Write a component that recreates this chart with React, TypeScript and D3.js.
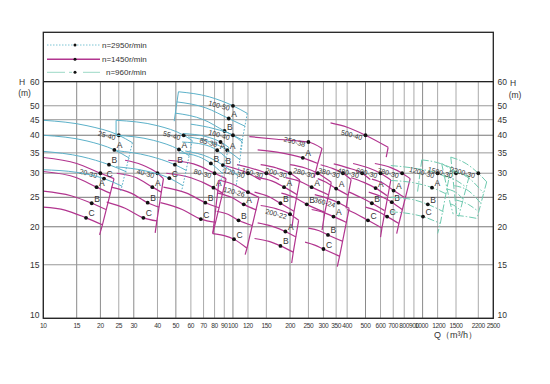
import React from 'react';
import * as d3 from 'd3';

type Pt = [number, number];
interface Fam { name: string; at: Pt; marks: [string, number, number][]; curves: Pt[][]; right?: Pt[]; left?: Pt[]; }

const xTickValues = [10, 15, 20, 25, 30, 40, 50, 60, 70, 80, 90, 100, 120, 150, 200, 250, 300, 350, 400, 500, 600, 700, 800, 900, 1000, 1200, 1500, 2200, 2500];
const xTickLabels = xTickValues.map(String);
const yTickValues = [10, 15, 20, 25, 30, 35, 40, 45, 50, 60];
const legendLabels = ['n=2950r/min', 'n=1450r/min', 'n=960r/min'];

const pumps2950: Fam[] = [
  { name: '25-40', at: [25, 40], marks: [['A', 23.7, 35.8], ['B', 22.2, 32], ['C', 20.9, 28.8]],
    curves: [[[10, 44.8], [17, 43], [25, 40], [29.5, 37.8]], [[10, 40], [17, 38.3], [23.7, 35.8], [28.5, 33.6]], [[10, 35.4], [16, 34], [22.2, 32], [27.5, 30.3]], [[10, 30.8], [15, 30.2], [20.9, 28.8], [26, 27.2]]],
    right: [[29.5, 37.8], [26, 27.2], [25.5, 26]] },
  { name: '55-40', at: [55, 40], marks: [['A', 51.9, 35.9], ['B', 49.4, 32], ['C', 46.2, 28.9]],
    curves: [[[24.2, 44.8], [40, 43], [55, 40], [61, 38.4]], [[24.2, 40], [38, 38.5], [51.9, 35.9], [59, 34.2]], [[24.2, 35.6], [36, 34.2], [49.4, 32], [57, 30.6]], [[24.2, 31.5], [34, 30.6], [46.2, 28.9], [54.5, 27.3]]],
    left: [[24.2, 44.8], [24.2, 40]], right: [[61, 38.4], [54.5, 27.3], [53.5, 26.2]] },
  { name: '100-50', at: [100, 50], marks: [['A', 95, 45.4], ['B', 90.3, 41.3]],
    curves: [[[51.6, 55.6], [75, 53.5], [100, 50], [119, 47.2]], [[50.5, 51.5], [72, 49.2], [95, 45.4], [116, 42.8]], [[49.5, 47.3], [70, 45], [90.3, 41.3], [113, 38.5]]],
    left: [[51.6, 55.6], [49, 44.5]], right: [[119, 47.2], [109, 35.3]] },
  { name: '100-40', at: [100, 40], marks: [['A', 93.3, 35.7], ['B', 88.5, 31.9]],
    curves: [[[60, 43.5], [80, 42], [100, 40], [112, 38]], [[58, 39.5], [78, 37.8], [93.3, 35.7], [109, 33.2]], [[56, 35.5], [75, 33.8], [88.5, 31.9], [106, 29.5]]],
    right: [[112, 38], [106, 29.5], [104, 27.3]] },
  { name: '85-38', at: [86, 38], marks: [['A', 82.6, 35.7], ['B', 76.5, 32.3]],
    curves: [[[55, 40.5], [72, 39.6], [86, 38], [95, 36.5]], [[54, 38], [70, 37.3], [82.6, 35.7], [92, 33.8]], [[52, 35], [66, 34], [76.5, 32.3], [88, 30]]],
    right: [[95, 36.5], [88, 30], [85, 27]] },
];

const pumps1450: Fam[] = [
  { name: '20-30', at: [20, 30], marks: [['A', 19.1, 27], ['B', 18, 23.9], ['C', 16.8, 21.4]],
    curves: [[[10, 33.8], [15, 32.3], [20, 30], [23.6, 28.8]], [[10, 30.4], [15, 29], [19.1, 27], [22.5, 25.8]], [[10, 26.2], [14, 25.3], [18, 23.9], [21.4, 22.8]], [[10, 23.2], [13, 22.7], [16.8, 21.4], [20.5, 20.3]]],
    right: [[23.6, 28.8], [20.5, 20.3], [19.8, 18.8]] },
  { name: '40-30', at: [40, 30], marks: [['A', 37.6, 27], ['B', 35.5, 24], ['C', 33.7, 21.4]],
    curves: [[[27, 33.1], [33, 32], [40, 30], [43, 28.8]], [[24.4, 30], [31, 29], [37.6, 27], [41.9, 26]], [[22.8, 27], [29, 25.8], [35.5, 24], [40.8, 23.2]], [[21.6, 24.1], [27, 23], [33.7, 21.4], [39.7, 20.9]]],
    right: [[43, 28.8], [39.7, 20.9], [38.9, 19.1]] },
  { name: '80-30', at: [80, 30], marks: [['A', 78.9, 26.9], ['B', 71.5, 24], ['C', 67.7, 21.2]],
    curves: [[[45.6, 33.1], [62, 32.2], [80, 30], [92, 28.8]], [[44.5, 30], [60, 29], [78.9, 26.9], [88, 25.8]], [[43, 27], [57, 25.8], [71.5, 24], [84.4, 23.1]], [[41.5, 24], [54, 22.8], [67.7, 21.2], [81, 20.7]]],
    right: [[92, 28.8], [81, 20.7], [78.2, 19]] },
  { name: '120-26', at: [120, 26], marks: [['A', 114, 23.7], ['B', 107, 21], ['C', 101.3, 18.2]],
    curves: [[[84.5, 28.5], [100, 27.6], [120, 26], [137, 25]], [[83.5, 25.8], [98, 25], [114, 23.7], [133, 22.7]], [[82, 22.5], [94, 22], [107, 21], [126, 20.2]], [[78.3, 19], [90, 18.7], [101.3, 18.2], [118.5, 17]]],
    left: [[84.5, 28.5], [78.3, 19]], right: [[137, 25], [118.5, 17], [116, 16.2]] },
  { name: '120-30', at: [120, 30], marks: [], curves: [[[90, 31.8], [120, 30], [140, 28.5]]] },
  { name: '150-30', at: [150, 30], marks: [], curves: [[[105, 32], [150, 30], [175, 28.6]]] },
  { name: '200-30', at: [200, 30], marks: [['A', 186, 27], ['B', 178, 23.9]],
    curves: [[[140, 32], [170, 31.2], [200, 30], [225, 28.5]], [[135, 29], [160, 28.3], [186, 27], [218, 25.5]], [[130, 26], [155, 25.1], [178, 23.9], [210, 22.5]]],
    right: [[225, 28.5], [210, 22.5], [205, 20]] },
  { name: '200-22', at: [200, 22], marks: [['A', 189, 19.3], ['B', 178, 17.3]],
    curves: [[[140, 23.5], [170, 22.9], [200, 22], [222, 21]], [[135, 20.6], [160, 20.1], [189, 19.3], [215, 18.5]], [[130, 18.3], [155, 17.9], [178, 17.3], [208, 16.5]]],
    right: [[222, 21], [208, 16.5], [204, 15.2]] },
  { name: '250-38', at: [250, 38], marks: [['A', 233.5, 33.7]],
    curves: [[[122, 39.6], [170, 38.8], [250, 38], [295, 36.2]], [[135, 35.8], [180, 35], [233.5, 33.7], [280, 32.3]]],
    right: [[295, 36.2], [280, 32.3], [268, 29]] },
  { name: '280-30', at: [280, 30], marks: [['A', 260, 27], ['B', 245, 23.7]],
    curves: [[[200, 32], [240, 31.2], [280, 30], [330, 28]], [[190, 29], [225, 28.2], [260, 27], [318, 25.5]], [[180, 25.8], [210, 25], [245, 23.7], [305, 22.3]]],
    right: [[330, 28], [305, 22.3], [295, 19.5]] },
  { name: '380-30', at: [380, 30], marks: [['A', 350, 26.7]],
    curves: [[[290, 32], [330, 31.2], [380, 30], [420, 28.6]], [[280, 28.8], [310, 28], [350, 26.7], [405, 25.4]]],
    right: [[420, 28.6], [405, 25.4], [395, 23]] },
  { name: '360-24', at: [360, 24], marks: [['A', 339, 21.6], ['B', 317, 18.8], ['C', 300, 16.9]],
    curves: [[[270, 25.5], [310, 24.9], [360, 24], [410, 23]], [[260, 22.8], [300, 22.3], [339, 21.6], [395, 20.7]], [[250, 19.8], [285, 19.4], [317, 18.8], [380, 17.9]], [[240, 17.8], [270, 17.4], [300, 16.9], [365, 16]]],
    right: [[410, 23], [365, 16], [355, 14.8]] },
  { name: '480-30', at: [480, 30], marks: [], curves: [[[340, 32.2], [400, 31.3], [480, 30], [530, 28.6]]] },
  { name: '600-30', at: [600, 30], marks: [['A', 565, 26.8], ['B', 540, 23.9], ['C', 515, 21]],
    curves: [[[430, 32.3], [520, 31.2], [600, 30], [680, 28.5]], [[420, 29], [490, 28], [565, 26.8], [650, 25.3]], [[410, 26], [470, 25], [540, 23.9], [630, 22.6]], [[400, 22.8], [450, 22], [515, 21], [610, 19.8]]],
    right: [[680, 28.5], [610, 19.8], [600, 18.5]] },
  { name: '780-30', at: [780, 30], marks: [['A', 703, 26.3], ['B', 688, 24.1], ['C', 650, 21.6]],
    curves: [[[560, 32.3], [680, 31.3], [780, 30], [860, 28.8]], [[540, 28.7], [620, 27.8], [703, 26.3], [800, 25]], [[520, 26], [600, 25.2], [688, 24.1], [780, 22.8]], [[500, 23.2], [570, 22.6], [650, 21.6], [750, 20.5]]],
    right: [[860, 28.8], [750, 20.5], [730, 19]] },
  { name: '500-40', at: [500, 40], marks: [], curves: [[[327, 43.9], [400, 42.5], [500, 40], [658, 36.5]]], right: [[658, 36.5], [643, 33.9]] },
];

const pumps960: Fam[] = [
  { name: '1200-30', at: [1200, 30], marks: [['A', 1121, 26.9], ['B', 1065, 23.7], ['C', 1005, 21.6]],
    curves: [[[990, 33.2], [1200, 32.5], [1410, 31.3]], [[680, 31.8], [950, 31], [1200, 30], [1380, 28.8]], [[680, 28.4], [900, 27.9], [1121, 26.9], [1340, 25.6]], [[680, 25], [880, 24.6], [1065, 23.7], [1290, 22.4]], [[680, 22.4], [850, 22.1], [1005, 21.6], [1240, 20.5]]],
    left: [[990, 33.2], [940, 26]], right: [[1410, 31.3], [1240, 20.5], [1200, 19]] },
  { name: '1500-30', at: [1500, 30], marks: [],
    curves: [[[1260, 32.3], [1500, 30.4], [1880, 29.3]], [[1300, 29.5], [1550, 28.2], [1800, 26.9]], [[1350, 26.6], [1560, 25.6], [1720, 24.4]], [[1400, 23.8], [1560, 23], [1620, 22.6]]],
    left: [[1260, 32.3], [1400, 23.8], [1450, 22]], right: [[1880, 29.3], [1570, 21.6]] },
  { name: '2200-30', at: [2200, 30], marks: [],
    curves: [[[1408, 33.9], [1800, 32.2], [2200, 30], [2363, 28.1]], [[1440, 30.4], [1850, 29], [2300, 25.8]], [[1470, 27.3], [1850, 26.3], [2240, 24]], [[1500, 24.5], [1850, 23.7], [2190, 22.5]], [[1520, 21.8], [1800, 21.6], [2150, 21.3]]],
    left: [[1408, 33.9], [1520, 21.8]], right: [[2363, 28.1], [2150, 21.3]] },
];

const styles = {
  s2950: { stroke: '#5cb1c9', dash: undefined as string | undefined, bdash: '1.6,1.6', width: 1 },
  s1450: { stroke: '#b2358f', dash: undefined as string | undefined, bdash: undefined as string | undefined, width: 1.2 },
  s960: { stroke: '#6fcab0', dash: '7,2,1.5,2', bdash: '7,2,1.5,2', width: 1 },
};

const FONT = 'Liberation Sans, Arial, sans-serif';

export default function App() {
  const x = d3.scaleLog().domain([10, 1500, 2200, 2500]).range([43.3, 456, 478.3, 493.3]);
  const y = d3.scaleLog().domain([10, 60]).range([318.3, 81.7]);
  const left = 43.3, right = 493.3, top = 81.7, bottom = 318.3;
  const line = d3.line<Pt>().x(d => x(d[0])).y(d => y(d[1])).curve(d3.curveMonotoneX);
  const poly = d3.line<Pt>().x(d => x(d[0])).y(d => y(d[1]));

  const renderFam = (f: Fam, st: { stroke: string; dash?: string; bdash?: string; width: number }, key: string) => {
    const dx = x(f.at[0]), dy = y(f.at[1]);
    return (
      <g key={key}>
        {f.curves.map((c, i) => (
          <path key={i} d={line(c) || ''} fill="none" stroke={st.stroke} strokeWidth={st.width} strokeDasharray={st.dash} />
        ))}
        {f.left && <path d={poly(f.left) || ''} fill="none" stroke={st.stroke} strokeWidth={st.width} strokeDasharray={st.dash} />}
        {f.right && <path d={poly(f.right) || ''} fill="none" stroke={st.stroke} strokeWidth={st.width} strokeDasharray={st.bdash} />}
        <circle cx={dx} cy={dy} r={1.9} fill="#111" />
        <text x={dx - 4} y={dy + 5} fontSize={7} fill="#333" textAnchor="end" transform={`rotate(15 ${dx - 4} ${dy + 5})`} fontFamily={FONT}>{f.name}</text>
        {f.marks.map(([l, q, h], i) => (
          <g key={'m' + i}>
            <circle cx={x(q)} cy={y(h)} r={1.9} fill="#111" />
            <text x={x(q) + 2.5} y={y(h) - 1.5} fontSize={8.5} fill="#333" fontFamily={FONT}>{l}</text>
          </g>
        ))}
      </g>
    );
  };

  const darkX = new Set([15, 20, 30, 50, 100, 200, 500, 1000]);
  const darkY = new Set([20, 25, 40]);
  const labelShift: Record<number, number> = { 1000: -1.2, 1200: 1.2 };

  return (
    <svg width={550} height={384} style={{ display: 'block', position: 'absolute', left: 0, top: 0, background: '#fff' }}>
      <rect width={550} height={384} fill="#fff" />
      {xTickValues.map(v => (
        <line key={'gx' + v} x1={x(v)} x2={x(v)} y1={top} y2={bottom} stroke={darkX.has(v) ? '#8a8a8a' : '#aaa'} strokeWidth={1} />
      ))}
      {yTickValues.map(v => (
        <line key={'gy' + v} x1={left} x2={right} y1={y(v)} y2={y(v)} stroke={darkY.has(v) ? '#777' : '#999'} strokeWidth={1} />
      ))}
      {pumps1450.map((f, i) => renderFam(f, styles.s1450, 'm' + i))}
      {pumps2950.map((f, i) => renderFam(f, styles.s2950, 'b' + i))}
      {pumps960.map((f, i) => renderFam(f, styles.s960, 't' + i))}
      <rect x={left} y={32.3} width={right - left} height={bottom - 32.3} fill="none" stroke="#222" strokeWidth={1.3} />
      <line x1={left} x2={right} y1={top} y2={top} stroke="#222" strokeWidth={1.3} />
      {legendLabels.map((lab, i) => {
        const ly = [45, 59.3, 72.3][i];
        const st = [styles.s2950, styles.s1450, styles.s960][i];
        return (
          <g key={'lg' + i}>
            {i === 0 && <line x1={47} x2={101} y1={ly} y2={ly} stroke="#7cc4d4" strokeWidth={1} strokeDasharray="1.5,1.5" />}
            {i === 1 && <line x1={47} x2={100} y1={ly} y2={ly} stroke={st.stroke} strokeWidth={1.6} />}
            {i === 2 && <line x1={47} x2={100} y1={ly} y2={ly} stroke="#9bd9c6" strokeWidth={1} strokeDasharray="18,4,3,4,0,7,22" />}
            <circle cx={75} cy={ly} r={1.5} fill="#111" />
            <text x={i === 2 ? 106 : 102} y={ly + 2.8} fontSize={8} fill="#333" fontFamily={FONT}>{lab}</text>
          </g>
        );
      })}
      {yTickValues.map(v => (
        <g key={'yl' + v}>
          <text x={39.5} y={y(v) + 3 - (v === 10 ? 3 : 0)} fontSize={8.5} textAnchor="end" fill="#333" fontFamily={FONT}>{v}</text>
          <text x={497.5} y={y(v) + 3 - (v === 10 ? 3 : 0)} fontSize={8.5} textAnchor="start" fill="#333" fontFamily={FONT}>{v}</text>
        </g>
      ))}
      {xTickValues.map((v, i) => (
        <text key={'xl' + v} x={x(v) + (labelShift[v] || 0)} y={328} fontSize={6.6} letterSpacing={-0.4} textAnchor="middle" fill="#333" fontFamily={FONT}>{xTickLabels[i]}</text>
      ))}
      <text x={22} y={85} fontSize={8.5} textAnchor="middle" fill="#333" fontFamily={FONT}>H</text>
      <text x={24.5} y={95.5} fontSize={8.5} textAnchor="middle" fill="#333" fontFamily={FONT}>(m)</text>
      <text x={513} y={86} fontSize={8.5} textAnchor="middle" fill="#333" fontFamily={FONT}>H</text>
      <text x={515} y={98} fontSize={8.5} textAnchor="middle" fill="#333" fontFamily={FONT}>(m)</text>
      <text x={434} y={338} fontSize={9} fill="#333" fontFamily={FONT}>Q（m³/h）</text>
    </svg>
  );
}
